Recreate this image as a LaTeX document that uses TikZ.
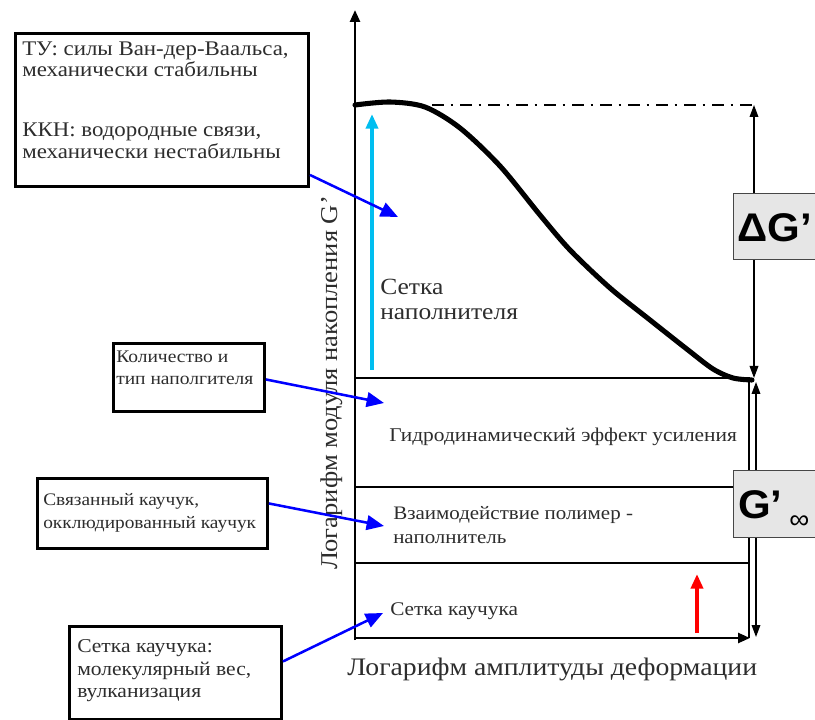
\documentclass[tikz,border=0pt]{standalone}
\usepackage{fontspec}
\setmainfont{Liberation Serif}[FakeStretch=1.1]
\setsansfont{Liberation Sans}[FakeStretch=1.05]
\usetikzlibrary{arrows.meta,calc}
\definecolor{txt}{RGB}{45,45,45}
\definecolor{skyc}{RGB}{0,190,240}
\definecolor{gboxfill}{RGB}{230,230,230}
\definecolor{gboxdraw}{RGB}{70,70,70}
\newcommand{\fsz}[1]{\fontsize{#1pt}{#1pt}\selectfont}
\begin{document}
\begin{tikzpicture}[x=0.75pt,y=-0.75pt,
  infobox/.style={draw=black,line width=2.2pt,inner sep=0pt,anchor=north west},
  lbl/.style={anchor=base west,inner sep=0pt,text=txt},
  axis/.style={line width=1.9pt,-{Triangle[length=9pt,width=7.5pt]}},
  band/.style={line width=1.6pt},
  pointer/.style={blue,line width=1.9pt,-{Triangle[length=13pt,width=11pt]}},
  dimarrow/.style={line width=1.0pt,{Triangle[length=9pt,width=6.5pt]}-{Triangle[length=9pt,width=6.5pt]}},
  gbox/.style={draw=gboxdraw,fill=gboxfill,line width=1.1pt,inner sep=0pt,anchor=north west},
  curve/.style={line width=3.8pt,line join=round,line cap=round}
]
\clip (0,0) rectangle (815,720);
\fill[white] (0,0) rectangle (815,720);

% info boxes
\node[infobox,minimum width=293*0.75pt,minimum height=153*0.75pt] (b1) at (14,32) {};
\node[infobox,minimum width=151*0.75pt,minimum height=68*0.75pt] (b2) at (112,342) {};
\node[infobox,minimum width=230*0.75pt,minimum height=70*0.75pt] (b3) at (36,477) {};
\node[infobox,minimum width=212*0.75pt,minimum height=93*0.75pt] (b4) at (68,625) {};

\node[lbl,font=\fsz{15.6}] (b1l1) at (22,56) {ТУ: силы Ван-дер-Ваальса,};
\node[lbl,font=\fsz{15.6}] (b1l2) at (22,77) {механически стабильны};
\node[lbl,font=\fsz{15.6}] (b1l3) at (22,137) {ККН: водородные связи,};
\node[lbl,font=\fsz{15.6}] (b1l4) at (22,159) {механически нестабильны};

\node[lbl,font=\fsz{13.3}] (b2l1) at (116,363) {Количество и};
\node[lbl,font=\fsz{13.3}] (b2l2) at (116,385) {тип наполгителя};

\node[lbl,font=\fsz{13.2}] (b3l1) at (43,506) {Связанный каучук,};
\node[lbl,font=\fsz{13.2}] (b3l2) at (43,528) {окклюдированный каучук};

\node[lbl,font=\fsz{14.7}] (b4l1) at (77,652) {Сетка каучука:};
\node[lbl,font=\fsz{14.7}] (b4l2) at (77,675) {молекулярный вес,};
\node[lbl,font=\fsz{14.7}] (b4l3) at (77,697) {вулканизация};

% bands
\draw[band] (355,378) -- (749,378) -- (749,638);
\draw[band] (355,487) -- (749,487);
\draw[band] (355,563) -- (749,563);

% axes
\draw[axis] (355,640) -- (355,10);
\draw[axis] (354,638) -- (750,638);

% curve and reference line
\draw[line width=1.6pt,dash pattern=on 9pt off 5pt on 2pt off 5pt] (432,105) -- (754,105);
\draw[curve] plot[smooth,tension=0.5] coordinates {(355,105) (390,102) (425,107) (460,128) (500,166) (540,215) (570,250) (610,288) (650,320) (688,350) (713,369) (733,378) (752,380)};

% dimension arrows
\draw[dimarrow] (754,105) -- (754,378);
\draw[dimarrow] (756,382) -- (756,637);

\node[gbox,minimum width=100*0.75pt,minimum height=66*0.75pt] (dg) at (733,193) {};
\node[lbl,text=black,font=\sffamily\bfseries\fsz{30}] (dgt) at (737,242) {ΔG’};
\node[gbox,minimum width=100*0.75pt,minimum height=67*0.75pt] (gi) at (733,470) {};
\node[lbl,text=black,font=\sffamily\bfseries\fsz{30}] (git) at (738,518) {G’};
\node[lbl,text=black,font=\sffamily\fsz{20}] (gii) at (789,528) {∞};

% cyan and red arrows
\coordinate (cy0) at (372,370);
\coordinate (cy1) at (372,114);
\draw[skyc,line width=3pt,-{Triangle[length=11pt,width=9pt]}] (cy0) -- (cy1);
\coordinate (rd0) at (697,633);
\coordinate (rd1) at (697,574);
\draw[red,line width=3pt,-{Triangle[length=11pt,width=9pt]}] (rd0) -- (rd1);

% band labels
\node[lbl,font=\fsz{17.4}] (sn1) at (380,295) {Сетка};
\node[lbl,font=\fsz{17.4}] (sn2) at (380,320) {наполнителя};
\node[lbl,font=\fsz{14.6}] (hyd) at (389,442) {Гидродинамический эффект усиления};
\node[lbl,font=\fsz{14.3}] (vz1) at (393,520) {Взаимодействие полимер -};
\node[lbl,font=\fsz{14.3}] (vz2) at (393,543) {наполнитель};
\node[lbl,font=\fsz{14.5}] (sk) at (390,615) {Сетка каучука};

% axis labels
\node[lbl,font=\fsz{18.9}] (xl) at (347,675) {Логарифм амплитуды деформации};
\node[lbl,font=\fsz{18.1},rotate=90] (yl) at (337,570) {Логарифм модуля накопления G'};

% pointers
\coordinate (t1) at (398,217);
\coordinate (t2) at (384,403);
\coordinate (t3) at (384,526);
\coordinate (t4) at (383,613);
\draw[pointer] ($(b1.south east)+(0,-13)$) -- (t1);
\draw[pointer] ($(b2.east)+(0,2)$) -- (t2);
\draw[pointer] ($(b3.east)+(0,-10)$) -- (t3);
\draw[pointer] ($(b4.east)+(0,-11.5)$) -- (t4);
\end{tikzpicture}
\end{document}
